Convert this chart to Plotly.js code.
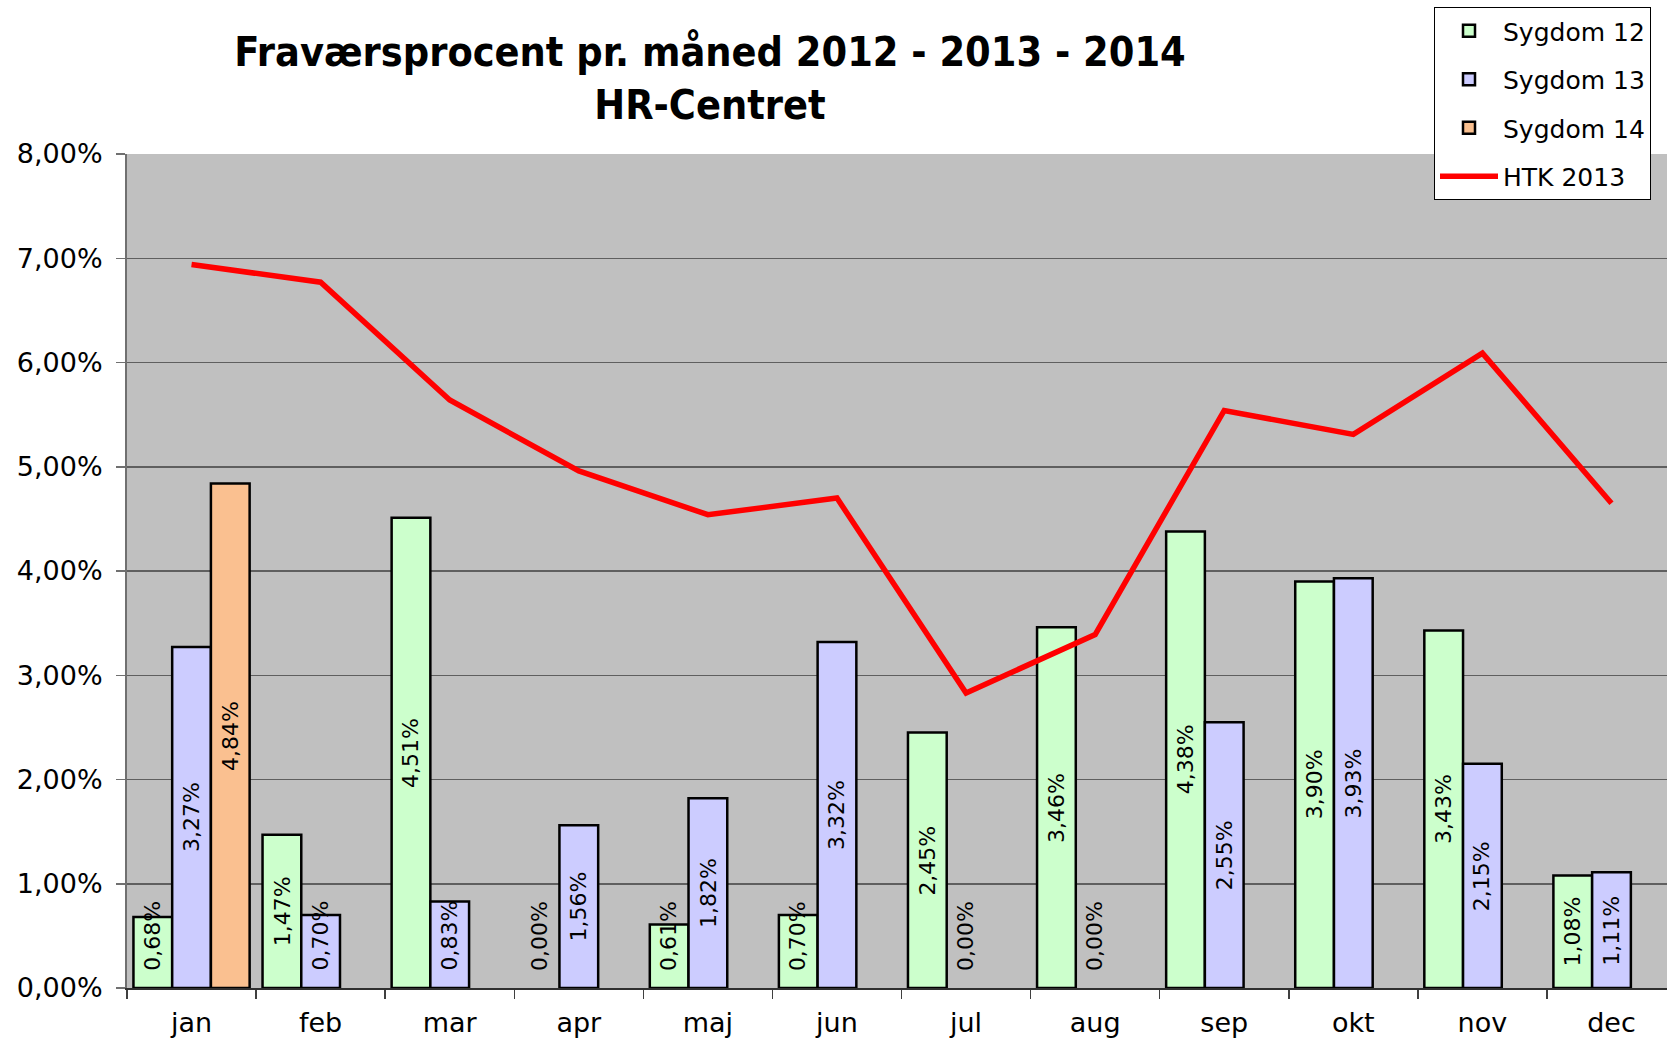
<!DOCTYPE html>
<html>
<head>
<meta charset="utf-8">
<script src="https://cdn.plot.ly/plotly-3.0.1.min.js"></script>
<style>html,body{margin:0;padding:0;background:#fff;}#chart{width:1667px;height:1040px;}</style>
</head>
<body>
<div id="chart"></div>
<script>
const months = ['jan','feb','mar','apr','maj','jun','jul','aug','sep','okt','nov','dec'];
const sygdom12 = [0.68, 1.47, 4.51, 0.00, 0.61, 0.70, 2.45, 3.46, 4.38, 3.90, 3.43, 1.08];
const sygdom13 = [3.27, 0.70, 0.83, 1.56, 1.82, 3.32, 0.00, 0.00, 2.55, 3.93, 2.15, 1.11];
const sygdom14 = [4.84, null, null, null, null, null, null, null, null, null, null, null];
const htk2013  = [6.94, 6.77, 5.64, 4.96, 4.54, 4.70, 2.83, 3.39, 5.54, 5.31, 6.09, 4.65];
const seriesNames = ['Sygdom 12', 'Sygdom 13', 'Sygdom 14'];
const lineName = 'HTK 2013';
const yTicks = [0,1,2,3,4,5,6,7,8];

const W = 1667, H = 1040, ML = 127, MR = 0, MT = 154, MB = 52;
const xRange = [-0.5, 11.43];
const bargap = 0.1;
const catPx = (W - ML - MR) / (xRange[1] - xRange[0]);
const slotPx = catPx * (1 - bargap) / 3;
const FONT = 'DejaVu Sans, Verdana, sans-serif';

const barColors = ['#CCFFCC', '#CCCCFF', '#FAC090'];
const barData = [sygdom12, sygdom13, sygdom14];

const fmt = v => v.toFixed(2).replace('.', ',') + '%';

const traces = barData.map((vals, i) => ({
  type: 'bar',
  name: seriesNames[i],
  x: months,
  y: vals,
  marker: {color: barColors[i], line: {color: '#000', width: vals.map(v => (v ? 2.5 : 0))}},
  legendgroup: 'g' + i,
  hoverinfo: 'skip'
}));
traces.push({
  type: 'scatter',
  mode: 'lines',
  name: lineName,
  x: months,
  y: htk2013,
  line: {color: '#FF0000', width: 5.5},
  legendgroup: 'g3',
  hoverinfo: 'skip'
});

const annotations = [];
barData.forEach((vals, i) => {
  vals.forEach((v, j) => {
    if (v === null) return;
    annotations.push({
      x: months[j], y: Math.max(v / 2, 0.5), xref: 'x', yref: 'y',
      text: fmt(v), textangle: -90, showarrow: false,
      xshift: (i - 1) * slotPx,
      font: {family: FONT, size: 22, color: '#000'}
    });
  });
});

const layout = {
  width: W, height: H,
  margin: {l: ML, r: MR, t: MT, b: MB, pad: 0},
  paper_bgcolor: '#FFFFFF',
  plot_bgcolor: '#C0C0C0',
  separators: ',.',
  barmode: 'group',
  bargap: bargap,
  bargroupgap: 0,
  font: {family: FONT, color: '#000'},
  title: {
    text: '<b>Fraværsprocent pr. måned 2012 - 2013 - 2014<br>HR-Centret</b>',
    font: {family: 'DejaVu Sans Condensed, DejaVu Sans, sans-serif', size: 41, color: '#000'},
    x: 710 / W, xanchor: 'center',
    yref: 'container', y: 1 - 66 / H, yanchor: 'middle'
  },
  xaxis: {
    type: 'category',
    range: xRange,
    tickson: 'boundaries',
    ticks: 'outside', ticklen: 9, tickwidth: 1.5, tickcolor: '#404040',
    showgrid: false,
    showline: true, linecolor: '#303030', linewidth: 2,
    tickfont: {family: FONT, size: 27, color: '#000'},
    ticklabelstandoff: 10,
    fixedrange: true
  },
  yaxis: {
    range: [0, 8],
    tickvals: yTicks,
    ticktext: yTicks.map(fmt),
    ticks: 'outside', ticklen: 9, tickwidth: 1.5, tickcolor: '#707070',
    showgrid: true, gridcolor: '#5F5F5F', gridwidth: 1.5,
    showline: true, linecolor: '#707070', linewidth: 2,
    zeroline: false,
    tickfont: {family: FONT, size: 27, color: '#000'},
    ticklabelstandoff: 8,
    fixedrange: true
  },
  legend: {
    x: (1434 - ML) / (W - ML - MR), xanchor: 'left',
    y: (H - MB - 7) / (H - MT - MB), yanchor: 'top',
    bgcolor: '#FFFFFF', bordercolor: '#000', borderwidth: 1,
    font: {family: FONT, size: 25, color: '#000'},
    traceorder: 'grouped', tracegroupgap: 13,
    itemwidth: 58
  },
  annotations: annotations,
  showlegend: true
};

Plotly.newPlot('chart', traces, layout, {displayModeBar: false, staticPlot: true});
</script>
</body>
</html>
